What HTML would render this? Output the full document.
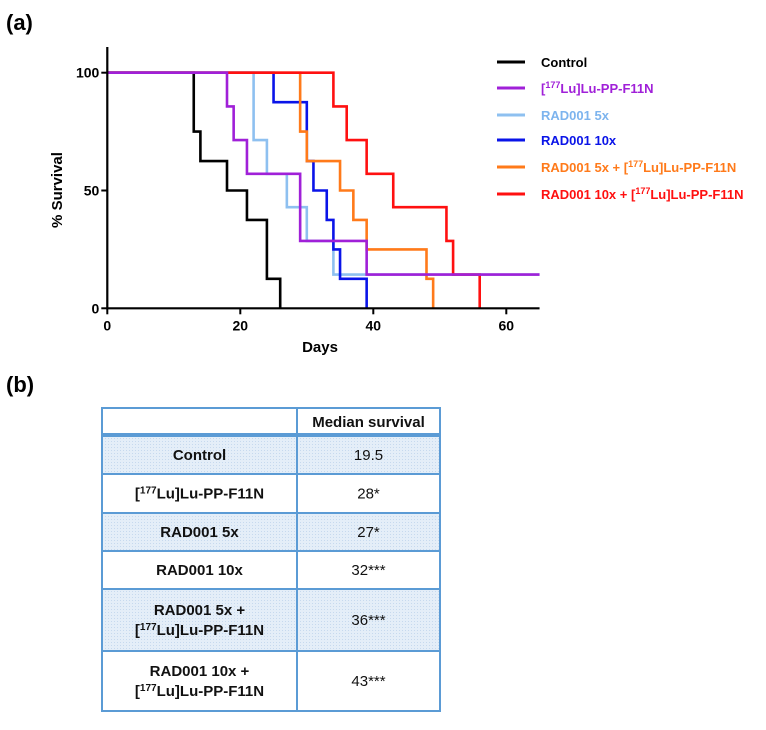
<!DOCTYPE html>
<html><head><meta charset="utf-8"><style>
body{margin:0;background:#fff;width:766px;height:725px;overflow:hidden;font-family:"Liberation Sans",Arial,sans-serif}
svg text{font-family:"Liberation Sans",Arial,sans-serif}
</style></head><body>
<svg width="766" height="725">
<defs><pattern id="dots" width="3" height="3" patternUnits="userSpaceOnUse"><rect width="3" height="3" fill="#e4eef8"/><rect width="1" height="1" fill="#c6d9ee"/></pattern></defs>
<text x="6" y="30" font-size="22" font-weight="bold">(a)</text>
<text x="6" y="392" font-size="22" font-weight="bold">(b)</text>
<g id="chart"></g>
<g id="table"></g>
</svg>
<script>
const seriesNames=["Control","[177Lu]Lu-PP-F11N","RAD001 5x","RAD001 10x","RAD001 5x + [177Lu]Lu-PP-F11N","RAD001 10x + [177Lu]Lu-PP-F11N"];
const seriesColors=["#000000","#a020d8","#8ec0f0","#0a14e8","#ff7a1a","#ff1010"];
const ctrlDays=[0,13,14,18,21,24,26];
const ctrlSurv=[100,75,62.5,50,37.5,12.5,0];
const luDays=[0,18,19,21,29,39];
const luSurv=[100,85.7,71.4,57.1,28.6,14.3];
const r5Days=[0,22,24,27,30,34];
const r5Surv=[100,71.4,57.1,42.9,28.6,14.3];
const r10Days=[0,25,30,31,33,34,35,39];
const r10Surv=[100,87.5,62.5,50,37.5,25,12.5,0];
const c5Days=[0,29,30,35,37,39,48,49];
const c5Surv=[100,75,62.5,50,37.5,25,12.5,0];
const c10Days=[0,34,36,39,43,51,52,56];
const c10Surv=[100,85.7,71.4,57.1,42.9,28.6,14.3,0];
const xTicks=[0,20,40,60];
const yTicks=[0,50,100];
const xMax=65;
const NS="http://www.w3.org/2000/svg";
const sx=d=>107.3+d*6.65, sy=v=>308.3-v*2.356;
const g=document.getElementById('chart');
function el(t,a,p){const e=document.createElementNS(NS,t);for(const k in a)e.setAttribute(k,a[k]);(p||g).appendChild(e);return e;}
const all=[[ctrlDays,ctrlSurv],[luDays,luSurv],[r5Days,r5Surv],[r10Days,r10Surv],[c5Days,c5Surv],[c10Days,c10Surv]];
const drawOrder=[0,2,3,4,5,1];
drawOrder.forEach(i=>{const [d,s]=all[i];let p=`M${sx(d[0])},${sy(s[0])}`;
for(let k=1;k<d.length;k++){p+=`H${sx(d[k])}V${sy(s[k])}`;}
if(s[s.length-1]>0)p+=`H${sx(xMax)}`;
const e=el('path',{d:p,fill:'none',stroke:seriesColors[i],'stroke-width':2.6});

});
const ax=el('path',{d:`M${sx(0)},47V${sy(0)}H${sx(xMax)}`,fill:'none',stroke:'#000','stroke-width':2.2});

xTicks.forEach(t=>{el('line',{x1:sx(t),x2:sx(t),y1:sy(0),y2:sy(0)+6,stroke:'#000','stroke-width':2});
const tx=el('text',{x:sx(t),y:sy(0)+22,'text-anchor':'middle','font-size':14,'font-weight':'bold'});tx.textContent=t;
});
yTicks.forEach(t=>{el('line',{x1:sx(0)-6,x2:sx(0),y1:sy(t),y2:sy(t),stroke:'#000','stroke-width':2});
const tx=el('text',{x:sx(0)-8,y:sy(t)+5,'text-anchor':'end','font-size':14,'font-weight':'bold'});tx.textContent=t;
});
const xt=el('text',{x:320,y:352,'text-anchor':'middle','font-size':15,'font-weight':'bold'});xt.textContent='Days';

const yt=el('text',{x:0,y:0,transform:'translate(62,190) rotate(-90)','text-anchor':'middle','font-size':15,'font-weight':'bold'});yt.textContent='% Survival';

const legY=[62,88,115,140,167,194];
seriesNames.forEach((n,i)=>{const y=legY[i];
const lg=el('g',{});
el('line',{x1:497,x2:525,y1:y,y2:y,stroke:seriesColors[i],'stroke-width':3},lg);
const t=el('text',{x:541,y:y+5,'font-size':13,'font-weight':'bold',fill:seriesColors[i]==='#8ec0f0'?'#7db4ee':seriesColors[i]},lg);
const parts=n.split('177');
if(parts.length>1){t.appendChild(document.createTextNode(parts[0]));const s=el('tspan',{dy:-5,'font-size':9},t);s.textContent='177';const r=el('tspan',{dy:5},t);r.textContent=parts[1];}
else t.textContent=n;});
const tg=document.getElementById('table');
const rowNames=["Control","[177Lu]Lu-PP-F11N","RAD001 5x","RAD001 10x","RAD001 5x +|[177Lu]Lu-PP-F11N","RAD001 10x +|[177Lu]Lu-PP-F11N"];
const medians=["19.5","28*","27*","32***","36***","43***"];
const rowB=[408,436,474,513,551,589,651,711];
const L=102,M=297,R=440;
function ttext(x,y,s,bold,name){const t=el('text',{x:x,y:y,'text-anchor':'middle','font-size':15,'font-weight':bold?'bold':'normal',fill:'#111'},tg);
const p=s.split('177');if(p.length>1){t.appendChild(document.createTextNode(p[0]));const a=el('tspan',{dy:-5,'font-size':10},t);a.textContent='177';const b=el('tspan',{dy:5},t);b.textContent=p[1];}else t.textContent=s;
}
rowNames.forEach((n,i)=>{const y0=rowB[i+1],y1=rowB[i+2];
if(i%2===0)el('rect',{x:L,y:y0,width:R-L,height:y1-y0,fill:'url(#dots)'},tg);
const lines=n.split('|');const cy=(y0+y1)/2;
lines.forEach((ln,k)=>ttext((L+M)/2,cy+5+(k-(lines.length-1)/2)*20,ln,true,'row-label'));
ttext((M+R)/2,cy+5,medians[i],false,'median-value');});
ttext((M+R)/2,427,'Median survival',true,'column-header');
const bc='#5b9bd5';
el('rect',{x:L,y:rowB[0],width:R-L,height:rowB[7]-rowB[0],fill:'none',stroke:bc,'stroke-width':2},tg);
el('line',{x1:M,x2:M,y1:rowB[0],y2:rowB[7],stroke:bc,'stroke-width':2},tg);
el('line',{x1:L,x2:R,y1:rowB[1]-1,y2:rowB[1]-1,stroke:bc,'stroke-width':4},tg);
for(let k=2;k<7;k++)el('line',{x1:L,x2:R,y1:rowB[k],y2:rowB[k],stroke:bc,'stroke-width':2},tg);
</script>
</body></html>
